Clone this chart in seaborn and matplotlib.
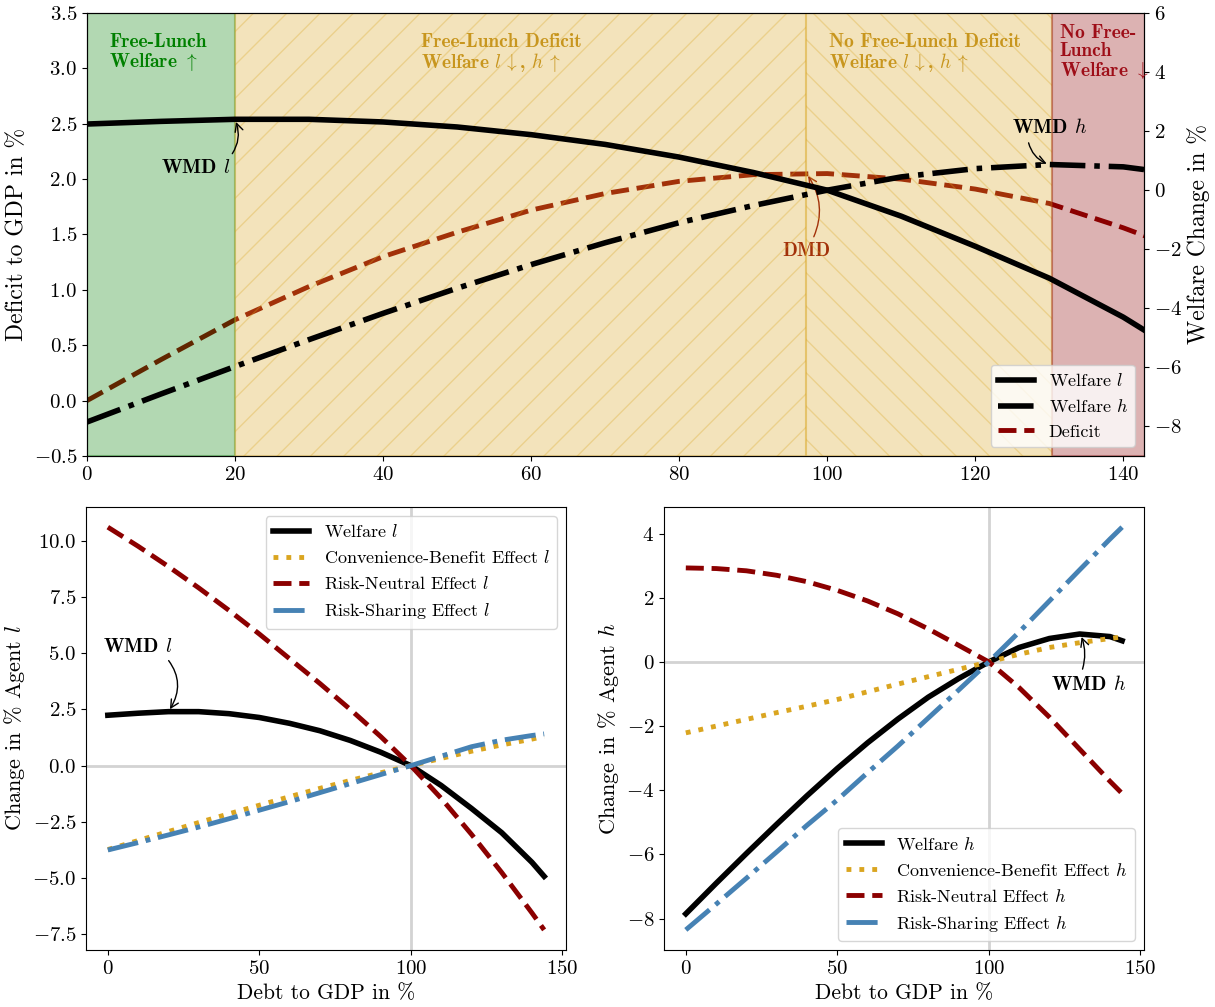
import numpy as np
import pandas as pd
import matplotlib
matplotlib.use("Agg")
import matplotlib.pyplot as plt
import seaborn as sns

# ---------------- data ----------------
debt = [0, 10, 20, 30, 40, 50, 60, 70, 80, 90, 100, 110, 120, 130, 140, 144]

welfare_l = [2.24, 2.33, 2.40, 2.40, 2.31, 2.14, 1.88, 1.55, 1.12, 0.60, 0.0,
             -0.88, -1.90, -2.98, -4.30, -4.92]
welfare_h = [-7.85, -6.90, -5.97, -5.06, -4.17, -3.32, -2.52, -1.78, -1.10, -0.52, 0.0,
             0.45, 0.73, 0.87, 0.79, 0.66]
deficit = [0.0, 0.37, 0.73, 1.03, 1.30, 1.52, 1.72, 1.87, 1.98, 2.04, 2.05,
           2.00, 1.91, 1.78, 1.56, 1.46]

conv_l = [-3.73, -3.33, -2.93, -2.53, -2.14, -1.76, -1.38, -1.01, -0.66, -0.32, 0.0,
          0.32, 0.64, 0.92, 1.18, 1.30]
rn_l = [10.60, 9.75, 8.85, 7.90, 6.90, 5.85, 4.75, 3.65, 2.50, 1.30, 0.0,
        -1.45, -3.05, -4.75, -6.55, -7.30]
rs_l = [-3.75, -3.42, -3.08, -2.73, -2.36, -1.98, -1.60, -1.20, -0.80, -0.40, 0.0,
        0.42, 0.84, 1.13, 1.34, 1.41]

conv_h = [-2.21, -2.00, -1.79, -1.58, -1.38, -1.17, -0.93, -0.69, -0.46, -0.23, 0.0,
          0.24, 0.45, 0.60, 0.73, 0.78]
rn_h = [2.93, 2.91, 2.84, 2.70, 2.50, 2.23, 1.90, 1.50, 1.03, 0.52, 0.0,
        -0.80, -1.72, -2.72, -3.72, -4.10]
rs_h = [-8.35, -7.55, -6.74, -5.92, -5.09, -4.30, -3.45, -2.62, -1.75, -0.88, 0.0,
        0.93, 1.90, 2.87, 3.83, 4.20]

# regions (debt-to-GDP thresholds)
wmd_l = 20.0
dmd = 97.2
wmd_h = 130.3
x_max_top = 142.8

df = pd.DataFrame({"debt": debt, "welfare_l": welfare_l, "welfare_h": welfare_h,
                   "deficit": deficit, "conv_l": conv_l, "rn_l": rn_l, "rs_l": rs_l,
                   "conv_h": conv_h, "rn_h": rn_h, "rs_h": rs_h})

# ---------------- style ----------------
plt.rcParams.update({
    "font.family": "serif",
    "font.serif": ["cmr10"],
    "mathtext.fontset": "cm",
    "axes.formatter.use_mathtext": True,
    "axes.unicode_minus": True,
    "font.size": 14,
    "axes.labelsize": 16,
    "xtick.labelsize": 15,
    "ytick.labelsize": 15,
    "legend.fontsize": 13,
})

BLACK = "black"
DRED = "#8b0000"
GOLD = "#daa520"
BLUE = "#4682b4"
bold = "cmb10"

fig = plt.figure(figsize=(12.15, 10.07), dpi=100)
ax = fig.add_axes([0.0716, 0.5472, 0.870, 0.4399])
ax2 = ax.twinx()
axl = fig.add_axes([0.0708, 0.0566, 0.395, 0.4399])
axr = fig.add_axes([0.5465, 0.0566, 0.395, 0.4399])

# ---------------- top panel ----------------
sns.lineplot(data=df, x="debt", y="deficit", ax=ax, color=DRED, linewidth=3.5,
             linestyle="--", label="Deficit", legend=False, zorder=2)
sns.lineplot(data=df, x="debt", y="welfare_l", ax=ax2, color=BLACK, linewidth=4,
             linestyle="-", label=r"Welfare $l$", legend=False)
sns.lineplot(data=df, x="debt", y="welfare_h", ax=ax2, color=BLACK, linewidth=4,
             linestyle="-.", label=r"Welfare $h$", legend=False)

ax.set_xlim(0, x_max_top)
ax.set_ylim(-0.5, 3.5)
ax.set_yticks(np.arange(-0.5, 3.51, 0.5))
ax.set_xticks(np.arange(0, 141, 20))
ax2.set_ylim(-9, 6)
ax2.set_yticks(np.arange(-8, 7, 2))
ax.set_xlabel("")
ax.set_ylabel("Deficit to GDP in %", fontsize=17)
ax2.set_ylabel("Welfare Change in %", fontsize=17)

# shaded regions drawn above the deficit line (left axis), below welfare lines
ax.axvspan(0, wmd_l, facecolor="green", edgecolor="green", alpha=0.3, lw=1.5, zorder=3)
ax.axvspan(wmd_l, dmd, facecolor=GOLD, edgecolor=GOLD, alpha=0.3, hatch="/", lw=1.5, zorder=3)
ax.axvspan(dmd, wmd_h, facecolor=GOLD, edgecolor=GOLD, alpha=0.3, hatch="\\", lw=1.5, zorder=3)
ax.axvspan(wmd_h, x_max_top + 5, facecolor=DRED, edgecolor=DRED, alpha=0.3, lw=1.5, zorder=3)

ax.annotate("DMD", xy=(dmd, 2.05), xytext=(97.2, 1.35), ha="center", va="center",
            fontsize=14, fontfamily=bold, color=DRED, zorder=2,
            arrowprops=dict(arrowstyle="->", color=DRED, lw=1, relpos=(0.6, 1.0),
                            connectionstyle="arc3,rad=0.3"))

ax2.text(3.0, 6 - 20 / 29.57, "Free-Lunch\n" + r"Welfare $\uparrow$", color="green",
         fontsize=14, fontfamily=bold, ha="left", va="top", zorder=10, linespacing=1.0)
ax2.text(45.1, 6 - 20 / 29.57, "Free-Lunch Deficit\n" + r"Welfare $l\,\downarrow$, $h\,\uparrow$",
         color="#c8961e", fontsize=14, fontfamily=bold, ha="left", va="top", zorder=10,
         linespacing=1.0)
ax2.text(100.3, 6 - 20 / 29.57, "No Free-Lunch Deficit\n" + r"Welfare $l\,\downarrow$, $h\,\uparrow$",
         color="#c8961e", fontsize=14, fontfamily=bold, ha="left", va="top", zorder=10,
         linespacing=1.0)
ax2.text(131.4, 6 - 11 / 29.57, "No Free-\nLunch\n" + r"Welfare $\downarrow$",
         color="#9e0e18", fontsize=14, fontfamily=bold, ha="left", va="top", zorder=10,
         linespacing=1.0)

ax2.annotate(r"WMD $l$", xy=(wmd_l, 2.40), xytext=(19.4, 0.76), ha="right", va="center",
             fontsize=14.5, fontfamily=bold, color="black", zorder=10,
             arrowprops=dict(arrowstyle="->", color="black", lw=1, relpos=(0.97, 1.0),
                             connectionstyle="arc3,rad=0.3"))
ax2.annotate(r"WMD $h$", xy=(wmd_h - 0.3, 0.86), xytext=(130.1, 2.11), ha="center", va="center",
             fontsize=14.5, fontfamily=bold, color="black", zorder=10,
             arrowprops=dict(arrowstyle="->", color="black", lw=1, relpos=(0.2, 0.0),
                             connectionstyle="arc3,rad=0.3"))

h1, l1 = ax2.get_legend_handles_labels()
h0, l0 = ax.get_legend_handles_labels()
leg = ax2.legend(h1 + h0, l1 + l0, loc="lower right", framealpha=0.8, fontsize=13)
leg.set_zorder(20)

# ---------------- bottom panels ----------------
def effects(axb, cols, labels):
    axb.axhline(0, color="lightgray", lw=2, zorder=0)
    axb.axvline(100, color="lightgray", lw=2, zorder=0)
    sns.lineplot(data=df, x="debt", y=cols[0], ax=axb, color=BLACK, linewidth=4,
                 linestyle="-", label=labels[0])
    sns.lineplot(data=df, x="debt", y=cols[1], ax=axb, color=GOLD, linewidth=3.5,
                 linestyle=":", label=labels[1])
    sns.lineplot(data=df, x="debt", y=cols[2], ax=axb, color=DRED, linewidth=3.5,
                 linestyle="--", label=labels[2])
    sns.lineplot(data=df, x="debt", y=cols[3], ax=axb, color=BLUE, linewidth=3.5,
                 linestyle="-.", label=labels[3])
    axb.set_xlabel("Debt to GDP in %", fontsize=15.5)
    axb.set_xticks([0, 50, 100, 150])

effects(axl, ["welfare_l", "conv_l", "rn_l", "rs_l"],
        [r"Welfare $l$", r"Convenience-Benefit Effect $l$", r"Risk-Neutral Effect $l$",
         r"Risk-Sharing Effect $l$"])
axl.set_ylabel(r"Change in % Agent $l$")
axl.legend(loc="upper right", fontsize=13)
axl.annotate(r"WMD $l$", xy=(wmd_l, 2.40), xytext=(9.7, 5.29), ha="center", va="center",
             fontsize=14.5, fontfamily=bold,
             arrowprops=dict(arrowstyle="->", color="black", lw=1, relpos=(0.87, 0.1),
                             connectionstyle="arc3,rad=-0.4"))

effects(axr, ["welfare_h", "conv_h", "rn_h", "rs_h"],
        [r"Welfare $h$", r"Convenience-Benefit Effect $h$", r"Risk-Neutral Effect $h$",
         r"Risk-Sharing Effect $h$"])
axr.set_ylabel(r"Change in % Agent $h$")
axr.legend(loc="lower right", fontsize=13)
axr.annotate(r"WMD $h$", xy=(wmd_h, 0.86), xytext=(132.8, -0.69), ha="center", va="center",
             fontsize=14.5, fontfamily=bold,
             arrowprops=dict(arrowstyle="->", color="black", lw=1, relpos=(0.4, 1.0),
                             connectionstyle="arc3,rad=0.2"))

fig.savefig("out.png", dpi=100)
